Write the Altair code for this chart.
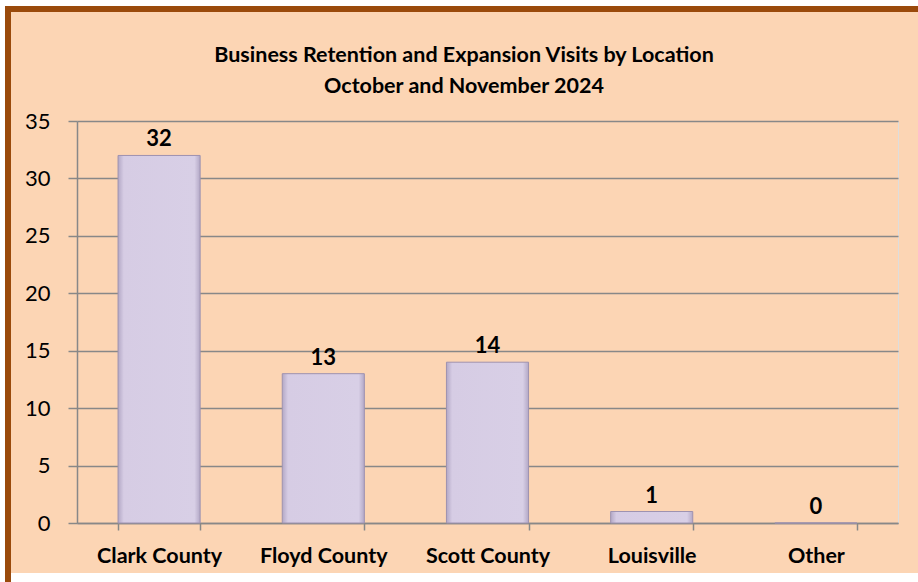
import altair as alt
import pandas as pd

locations = ["Clark County", "Floyd County", "Scott County", "Louisville", "Other"]
visits = [32, 13, 14, 1, 0]
title_line1 = "Business Retention and Expansion Visits by Location"
title_line2 = "October and November 2024"
y_ticks = [0, 5, 10, 15, 20, 25, 30, 35]

df = pd.DataFrame({"location": locations, "visits": visits})

FONT = "Lato"
W, H = 821, 402
PL, PT = 77, 121

one = alt.Data(values=[{"k": 1}])


def box(color, x0, x1, y0, y1):
    return alt.Chart(one).mark_rect(color=color).encode(
        x=alt.value(x0 - PL), x2=alt.value(x1 - PL),
        y=alt.value(y0 - PT), y2=alt.value(y1 - PT),
    )


# decorative frame around the chart (outside the label areas)
frame = [
    box("#FFFFFF", 0, 925, 0, 6),
    box("#FFFFFF", 0, 5, 0, 582),
    box("#FFFFFF", 11, 925, 573, 582),
    box("#9A4A0B", 5, 925, 6, 12),
    box("#9A4A0B", 5, 11, 6, 582),
]

grad = alt.Gradient(
    gradient="linear",
    stops=[
        alt.GradientStop(color="#B3A8C6", offset=0),
        alt.GradientStop(color="#D6CCE4", offset=0.07),
        alt.GradientStop(color="#D8CFE6", offset=0.93),
        alt.GradientStop(color="#B3A8C6", offset=1),
    ],
    x1=0, x2=1, y1=0, y2=0,
)

x_enc = alt.X(
    "location:N", sort=locations, title=None,
    scale=alt.Scale(paddingInner=0.5, paddingOuter=0.25),
    axis=alt.Axis(
        labelAngle=0, labelFont=FONT, labelFontSize=21.5, labelFontWeight="bold",
        labelColor="#000000", labelPadding=15, tickBand="extent", tickSize=7,
        tickColor="#888888", domainColor="#888888", domainWidth=1.5, tickWidth=1.5,
        grid=False,
    ),
)
y_enc = alt.Y(
    "visits:Q", title=None,
    scale=alt.Scale(domain=[0, 35], nice=False),
    axis=alt.Axis(
        values=y_ticks, labelFont=FONT, labelFontSize=22, labelColor="#000000",
        labelPadding=18, tickSize=9, tickColor="#888888", tickWidth=1.5,
        domainColor="#888888", domainWidth=1.5,
        grid=True, gridColor="#888888", gridWidth=1.5,
    ),
)

bars = alt.Chart(df).mark_bar(
    fill=grad, stroke="#9E92B0", strokeWidth=1
).encode(x=x_enc, y=y_enc)

labels = alt.Chart(df).mark_text(
    font=FONT, fontSize=22, fontWeight="bold", color="#000000",
    baseline="alphabetic", dy=-9,
).encode(
    x=alt.X("location:N", sort=locations),
    y=alt.Y("visits:Q"),
    text=alt.Text("visits:Q"),
)

title1 = alt.Chart(one).mark_text(
    font=FONT, fontSize=21.5, fontWeight="bold", color="#000000",
    baseline="alphabetic", align="center",
).encode(x=alt.value(464 - PL), y=alt.value(62 - PT), text=alt.value(title_line1))
title2 = alt.Chart(one).mark_text(
    font=FONT, fontSize=21.5, fontWeight="bold", color="#000000",
    baseline="alphabetic", align="center",
).encode(x=alt.value(464 - PL), y=alt.value(93 - PT), text=alt.value(title_line2))

chart = alt.layer(
    *frame, bars, labels, title1, title2
).properties(
    width=W, height=H,
    autosize=alt.AutoSizeParams(type="none"),
    padding={"left": PL, "top": PT, "right": 918 - PL - W, "bottom": 582 - PT - H},
).configure_view(stroke=None, fill="#FFFFFF").configure(background="#FCD5B4")

chart.save("out.html", embed_options={"renderer": "svg", "actions": False})
